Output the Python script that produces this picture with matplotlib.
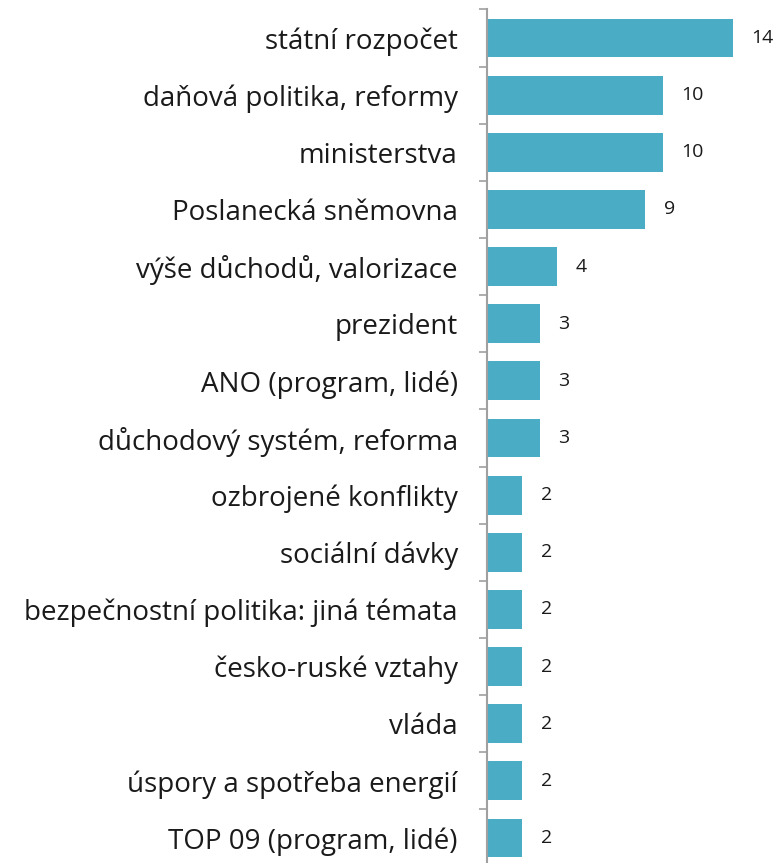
import numpy as np
import matplotlib.pyplot as plt

categories = ["státní rozpočet", "daňová politika, reformy", "ministerstva",
              "Poslanecká sněmovna", "výše důchodů, valorizace", "prezident",
              "ANO (program, lidé)", "důchodový systém, reforma",
              "ozbrojené konflikty", "sociální dávky",
              "bezpečnostní politika: jiná témata", "česko-ruské vztahy",
              "vláda", "úspory a spotřeba energií", "TOP 09 (program, lidé)"]
values = [14, 10, 10, 9, 4, 3, 3, 3, 2, 2, 2, 2, 2, 2, 2]

plt.rcParams['font.family'] = ['Open Sans', 'DejaVu Sans']

fig = plt.figure(figsize=(7.79, 8.63), dpi=100)
ax = fig.add_axes([487 / 779, 1 - 866.6 / 863, 281 / 779, 857.1 / 863])

y = np.arange(len(categories))
ax.barh(y, values, height=0.68, color="#4BACC6")
for yi, v in zip(y, values):
    ax.annotate(str(v), (v, yi), xytext=(13.5, 0), textcoords="offset points",
                va="center", ha="left", fontsize=14, color="#1a1a1a")

ax.set_ylim(len(categories) - 0.5, -0.5)
ax.set_xlim(0, 16)
ax.set_yticks(y)
ax.set_yticklabels(categories, fontsize=20, color="#1a1a1a")
ax.set_yticks(np.arange(-0.5, len(categories)), minor=True)
ax.tick_params(axis="y", which="major", length=0, pad=21)
ax.tick_params(axis="y", which="minor", length=6, width=1.2, color="#A0A0A0")
ax.set_xticks([])
for s in ["top", "right", "bottom"]:
    ax.spines[s].set_visible(False)
ax.spines["left"].set_color("#A0A0A0")
ax.spines["left"].set_linewidth(1.5)

fig.savefig("out.png", dpi=100)
